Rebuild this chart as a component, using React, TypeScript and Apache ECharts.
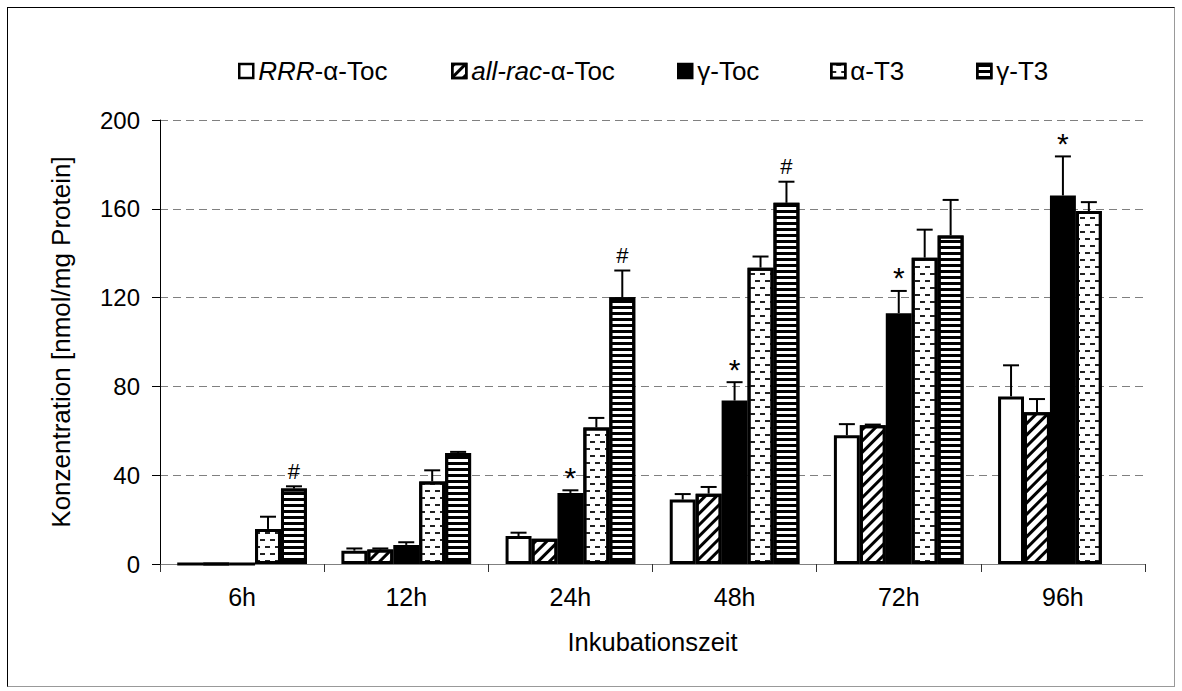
import React, { useEffect, useRef } from "react";
import * as echarts from "echarts";

const categories = ["6h", "12h", "24h", "48h", "72h", "96h"];
const seriesNames = ["RRR-α-Toc", "all-rac-α-Toc", "γ-Toc", "α-T3", "γ-T3"];

const rrrToc = [0, 6, 12.6, 29, 58, 75.5];
const rrrTocErr = [0, 1, 1.5, 2.5, 5, 14];
const allRacToc = [0, 6.5, 11.4, 31.7, 62.5, 68.3];
const allRacTocErr = [0, 0.5, 0, 3, 0.3, 6];
const gammaToc = [0, 8.6, 32, 73.6, 113, 166];
const gammaTocErr = [0, 1.2, 1.2, 8.3, 10, 17.6];
const alphaT3 = [15.8, 37.2, 61.5, 133.5, 138, 159];
const alphaT3Err = [5.5, 5, 4.3, 5, 12.6, 4];
const gammaT3 = [34, 50, 120.2, 162.7, 148, null];
const gammaT3Err = [1, 0.5, 12, 9.5, 16, null];

const gammaTocMarks = ["", "", "*", "*", "*", "*"];
const gammaT3Marks = ["#", "", "#", "#", "", ""];

const yTicks = { min: 0, max: 200, interval: 40 };

const FONT = "'Liberation Sans', Arial, sans-serif";
const CAT_GAP = 0.21;

export default function App() {
  const ref = useRef<HTMLDivElement>(null);

  useEffect(() => {
    if (!ref.current) return;
    const chart = echarts.init(ref.current, null, { renderer: "svg" });

    const values = [rrrToc, allRacToc, gammaToc, alphaT3, gammaT3];
    const errs = [rrrTocErr, allRacTocErr, gammaTocErr, alphaT3Err, gammaT3Err];
    const marks = [
      categories.map(() => ""),
      categories.map(() => ""),
      gammaTocMarks,
      categories.map(() => ""),
      gammaT3Marks,
    ];

    const styles: any[] = [
      { color: "#fff", borderColor: "#000", borderWidth: 3 },
      {
        color: "#fff",
        borderColor: "#000",
        borderWidth: 3,
        decal: {
          symbol: "rect",
          symbolSize: 1,
          color: "#000",
          backgroundColor: "#fff",
          dashArrayX: [1, 0],
          dashArrayY: [3, 5],
          rotation: -Math.PI / 4,
        },
      },
      { color: "#000", borderColor: "#000", borderWidth: 3 },
      {
        color: "#fff",
        borderColor: "#000",
        borderWidth: 3,
        decal: {
          symbol: "rect",
          symbolSize: 1,
          color: "#222",
          backgroundColor: "#fff",
          dashArrayX: [
            [5, 5],
            [0, 5, 5, 0],
          ],
          dashArrayY: [1.5, 5],
        },
      },
      {
        color: "#fff",
        borderColor: "#000",
        borderWidth: 3,
        decal: {
          symbol: "rect",
          symbolSize: 1,
          color: "#000",
          backgroundColor: "#fff",
          dashArrayX: [1, 0],
          dashArrayY: [3, 3],
        },
      },
    ];

    const barSeries = seriesNames.map((name, k) => ({
      name,
      type: "bar",
      data: values[k],
      barGap: "0%",
      barCategoryGap: CAT_GAP * 100 + "%",
      itemStyle: styles[k],
      z: 2,
    }));

    const errItems: any[] = [];
    values.forEach((vals, k) => {
      vals.forEach((v, i) => {
        if (v === null || v === undefined) return;
        errItems.push({ value: [i, v, errs[k][i] || 0, k], mark: marks[k][i] || "" });
      });
    });

    const errSeries = {
      type: "custom",
      coordinateSystem: "cartesian2d",
      silent: true,
      z: 5,
      encode: { x: 0, y: 1 },
      data: errItems.map((d) => d.value),
      renderItem: (params: any, api: any) => {
        const i = api.value(0);
        const v = api.value(1);
        const e = api.value(2);
        const k = api.value(3);
        const mark = errItems[params.dataIndex].mark;
        const base = api.coord([i, v]);
        const band = api.size([1, 0])[0];
        const used = band * (1 - CAT_GAP);
        const bw = used / 5;
        const x = base[0] - used / 2 + bw * (k + 0.5);
        const yTop = api.coord([i, v + e])[1];
        const children: any[] = [];
        if (e > 0) {
          children.push({
            type: "line",
            shape: { x1: x, y1: base[1], x2: x, y2: yTop },
            style: { stroke: "#000", lineWidth: 2 },
          });
          children.push({
            type: "line",
            shape: { x1: x - 8, y1: yTop, x2: x + 8, y2: yTop },
            style: { stroke: "#000", lineWidth: 2 },
          });
        }
        if (mark) {
          const isStar = mark === "*";
          children.push({
            type: "text",
            style: {
              text: mark,
              x: x,
              y: isStar ? yTop - 13 : yTop - 15,
              align: "center",
              verticalAlign: "middle",
              fill: "#000",
              fontFamily: FONT,
              fontSize: isStar ? 30 : 22,
              fontWeight: "normal",
            },
          });
        }
        return { type: "group", children };
      },
    };

    const legendLefts = [233, 446, 672, 825, 971];
    const legends = seriesNames.map((name, k) => ({
      data: [name],
      left: legendLefts[k],
      top: 53,
      orient: "horizontal",
      selectedMode: false,
      itemWidth: 14,
      itemHeight: 14,
      icon: "rect",
      itemStyle: { borderWidth: 2.5, borderColor: "#000" },
      formatter: (n: string) => {
        if (n === "RRR-α-Toc") return "{i|RRR}-α-Toc";
        if (n === "all-rac-α-Toc") return "{i|all-rac}-α-Toc";
        return n;
      },
      textStyle: {
        fontFamily: FONT,
        fontSize: 26,
        color: "#000",
        rich: {
          i: { fontFamily: FONT, fontSize: 26, fontStyle: "italic", color: "#000" },
        },
      },
    }));

    chart.setOption({
      animation: false,
      backgroundColor: "transparent",
      legend: legends,
      grid: { left: 160, right: 37, top: 120, bottom: 127 },
      xAxis: {
        type: "category",
        data: categories,
        name: "Inkubationszeit",
        nameLocation: "middle",
        nameGap: 65,
        nameTextStyle: { fontFamily: FONT, fontSize: 25.5, color: "#000" },
        axisLine: { lineStyle: { color: "#808080", width: 1 } },
        axisTick: { show: true, length: 8, lineStyle: { color: "#333" } },
        axisLabel: { fontFamily: FONT, fontSize: 25, color: "#000", margin: 20 },
      },
      yAxis: {
        type: "value",
        min: yTicks.min,
        max: yTicks.max,
        interval: yTicks.interval,
        name: "Konzentration [nmol/mg Protein]",
        nameLocation: "middle",
        nameGap: 86,
        nameTextStyle: { fontFamily: FONT, fontSize: 26, color: "#000" },
        axisLine: { show: true, lineStyle: { color: "#000", width: 1 } },
        axisTick: { show: true, length: 8, lineStyle: { color: "#000" } },
        axisLabel: { fontFamily: FONT, fontSize: 24, color: "#000", margin: 20 },
        splitLine: { show: true, lineStyle: { color: "#808080", type: [8, 5], width: 1 } },
      },
      series: [...barSeries, errSeries],
    });

    return () => chart.dispose();
  }, []);

  return (
    <div style={{ position: "fixed", left: 0, top: 0, width: 1182, height: 691, background: "#fff" }}>
      <div ref={ref} style={{ position: "absolute", left: 0, top: 0, width: 1182, height: 691 }} />
      <div
        style={{
          position: "absolute",
          left: 7,
          top: 7,
          width: 1168,
          height: 680,
          boxSizing: "border-box",
          borderTop: "1px solid #000",
          borderLeft: "1px solid #000",
          borderRight: "1px solid #999",
          borderBottom: "1px solid #999",
          pointerEvents: "none",
        }}
      />
    </div>
  );
}
